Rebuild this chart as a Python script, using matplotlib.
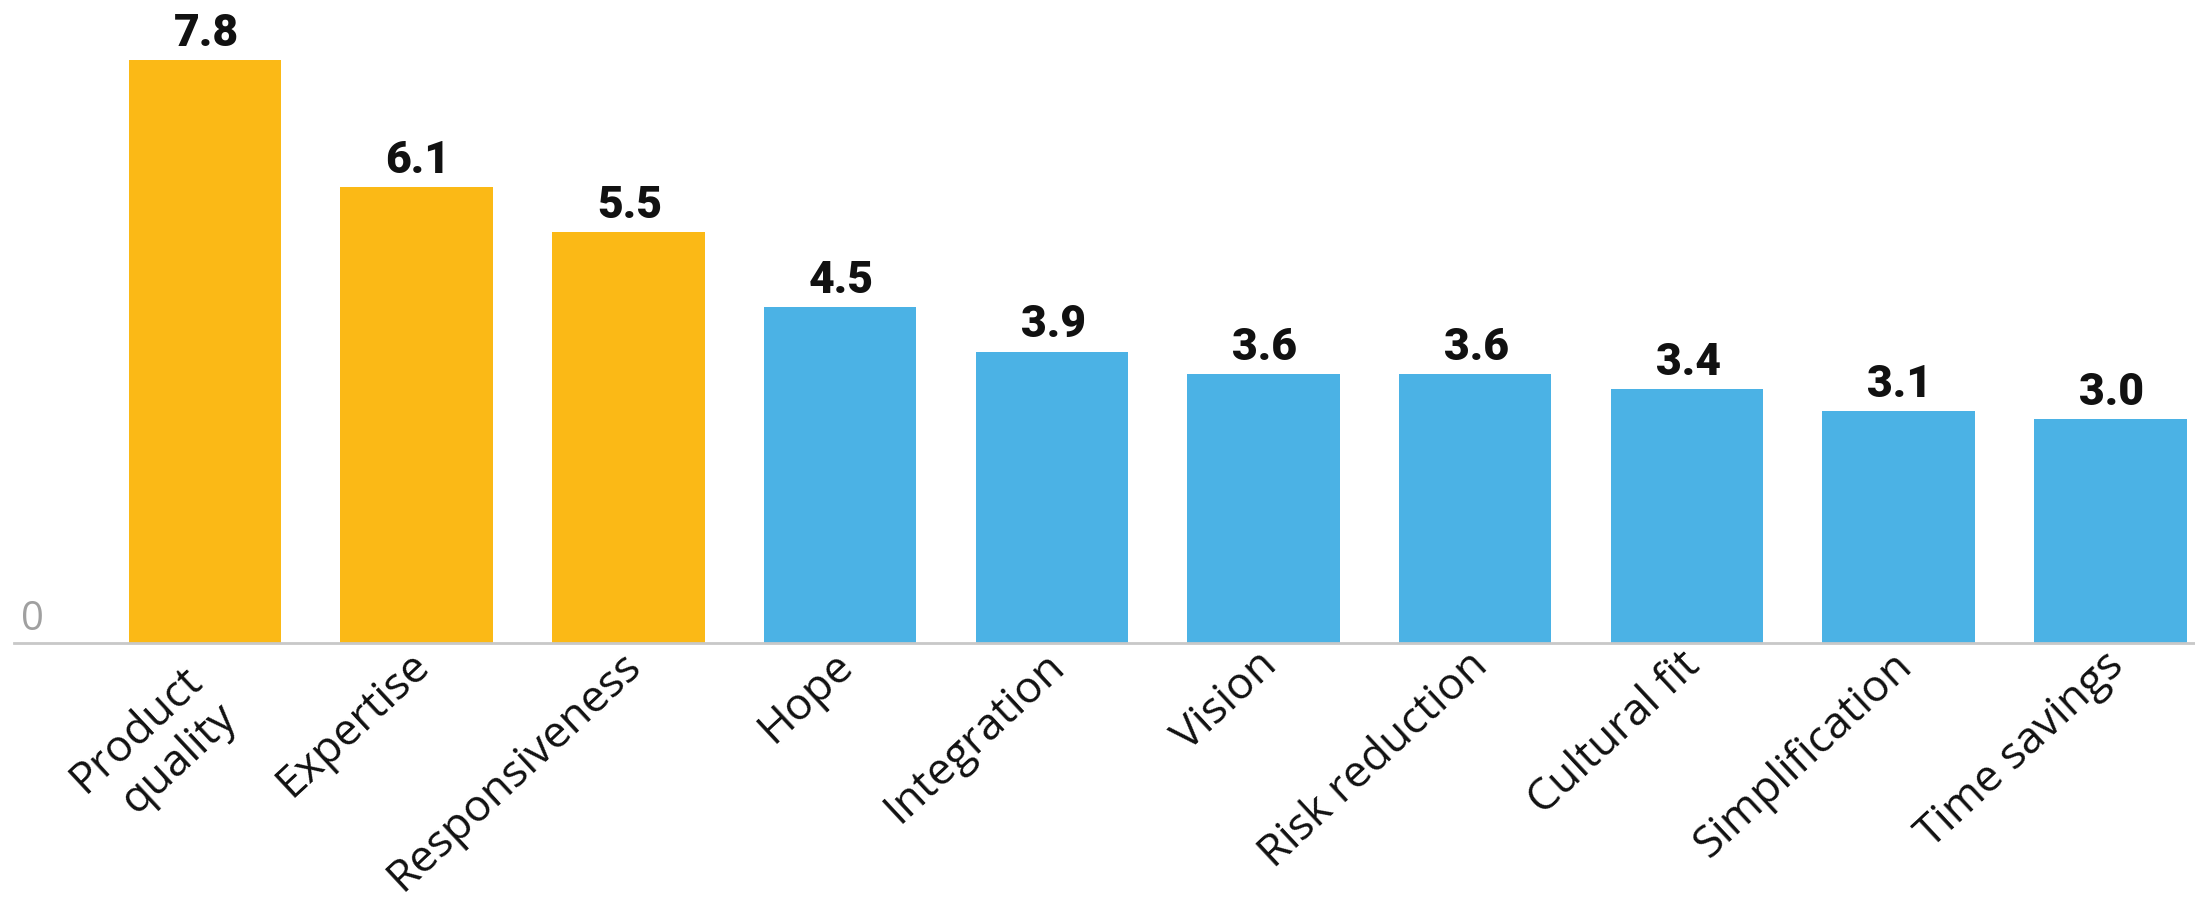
import matplotlib
matplotlib.use("Agg")
import numpy as np
import matplotlib.pyplot as plt
import matplotlib.transforms as mtransforms

categories = ["Product\nquality", "Expertise", "Responsiveness", "Hope", "Integration",
              "Vision", "Risk reduction", "Cultural fit", "Simplification", "Time savings"]
values = [7.8, 6.1, 5.5, 4.5, 3.9, 3.6, 3.6, 3.4, 3.1, 3.0]
highlight = [True, True, True, False, False, False, False, False, False, False]
value_labels = ["7.8", "6.1", "5.5", "4.5", "3.9", "3.6", "3.6", "3.4", "3.1", "3.0"]

ORANGE = "#FBB916"
BLUE = "#4BB2E5"
ROT = 43

fig = plt.figure(figsize=(21.95, 8.98), dpi=100)
ax = fig.add_axes([14 / 2195, (898 - 643) / 898, 1 - 14 / 2195, 643 / 898])

x = list(range(len(categories)))
colors = [ORANGE if h else BLUE for h in highlight]
ax.bar(x, values, width=0.72, color=colors, zorder=2)

ax.set_xlim(-0.902, 9.40)
ax.set_ylim(0, 8.61)

for xi, v, lab in zip(x, values, value_labels):
    ax.annotate(lab, (xi, v), xytext=(1, 3.8), textcoords="offset points",
                ha="center", va="bottom", fontsize=32, fontweight="heavy",
                family="Roboto", color="#111111")

for s in ["top", "right", "left"]:
    ax.spines[s].set_visible(False)
ax.spines["bottom"].set_color("#c8c8c8")
ax.spines["bottom"].set_linewidth(2.0)
ax.spines["bottom"].set_zorder(3)

ax.set_yticks([])
ax.text(0.003, 0.036, "0", transform=ax.transAxes, ha="left", va="center",
        fontsize=29, color="#a0a0a0", family="Open Sans")

ax.set_xticks(x)
ax.set_xticklabels(categories, rotation=ROT, ha="right", va="top",
                   rotation_mode="anchor", fontsize=32, family="Open Sans",
                   color="#111111")
ax.tick_params(axis="x", length=0, pad=0)
for lbl in ax.get_xticklabels():
    dx, dy = -8.0, 0.0
    if "\n" in lbl.get_text():
        dx += -22 * np.cos(np.radians(ROT))
        dy += -22 * np.sin(np.radians(ROT))
    offset = mtransforms.ScaledTranslation(dx / 100, dy / 100, fig.dpi_scale_trans)
    lbl.set_transform(lbl.get_transform() + offset)

fig.savefig("out.png", dpi=100)
